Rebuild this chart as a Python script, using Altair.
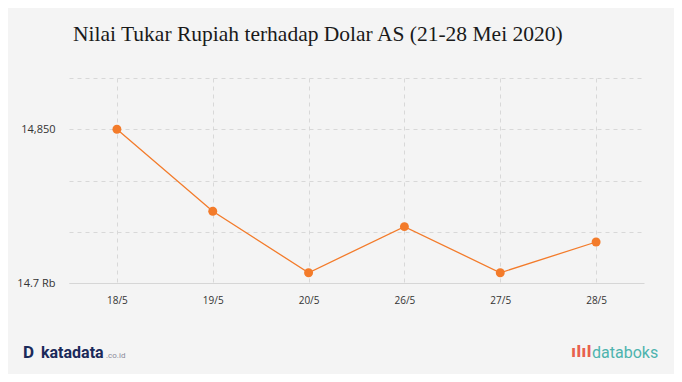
import altair as alt
import pandas as pd

dates = ["18/5", "19/5", "20/5", "26/5", "27/5", "28/5"]
rates = [14850, 14770, 14710, 14755, 14710, 14740]

title_text = "Nilai Tukar Rupiah terhadap Dolar AS (21-28 Mei 2020)"

df = pd.DataFrame({"tanggal": dates, "kurs": rates})

x_enc = alt.X("tanggal:N", sort=dates, title=None,
              scale=alt.Scale(paddingInner=0, paddingOuter=0, align=0.5),
              axis=alt.Axis(labelAngle=0, labelFontSize=10, labelColor="#333333",
                            labelPadding=12, ticks=False, domain=True,
                            domainColor="#d6d6d6", grid=True, gridDash=[4, 4],
                            gridColor="#d8d8d8", labelFont="Open Sans"))
y_enc = alt.Y("kurs:Q", title=None,
              scale=alt.Scale(domain=[14700, 14900], nice=False, zero=False),
              axis=alt.Axis(values=[14700, 14750, 14800, 14850, 14900],
                            labelExpr="datum.value == 14850 ? '14,850' : (datum.value == 14700 ? '14.7 Rb' : '')",
                            labelFontSize=11, labelColor="#333333", labelPadding=14,
                            ticks=False, domain=False, grid=True, gridDash=[4, 4],
                            gridColor="#d8d8d8", labelFont="Open Sans"))

base = alt.Chart(df)
line = base.mark_line(color="#f37b2a", strokeWidth=1.3).encode(x=x_enc, y=y_enc)
pts = base.mark_circle(color="#f37b2a", opacity=1, size=80).encode(x=x_enc, y=y_enc)

foot = pd.DataFrame({"d": [0]})
logo_d = alt.Chart(foot).mark_text(text="D", font="Roboto", fontWeight="bold", fontSize=17,
                                   color="#1b2a5a", align="left", baseline="middle").encode(
    x=alt.value(-46), y=alt.value(275))
logo_k = alt.Chart(foot).mark_text(text="katadata", font="Roboto", fontWeight="bold", fontSize=16,
                                   color="#1b2a5a", align="left", baseline="middle").encode(
    x=alt.value(-28), y=alt.value(275))
logo_c = alt.Chart(foot).mark_text(text=".co.id", font="Roboto", fontSize=8,
                                   color="#8a8a9a", align="left", baseline="middle").encode(
    x=alt.value(37), y=alt.value(278))
logo_i = alt.Chart(foot).mark_text(text="ılıl", font="DejaVu Sans", fontWeight="bold", fontSize=15,
                                   color="#e8604c", align="left", baseline="middle").encode(
    x=alt.value(502), y=alt.value(274))
logo_db = alt.Chart(foot).mark_text(text="databoks", font="Roboto", fontSize=16,
                                    color="#4db3ae", align="left", baseline="middle").encode(
    x=alt.value(523), y=alt.value(275))

chart = alt.layer(line, pts, logo_d, logo_k, logo_c, logo_i, logo_db).properties(
    width=575, height=205,
    autosize=alt.AutoSizeParams(type="none"),
    padding={"left": 61, "top": 70, "right": 30, "bottom": 91},
    background="#f4f4f4",
    title=alt.TitleParams(title_text, anchor="start", frame="group", font="Liberation Serif",
                          fontSize=21.5, fontWeight="normal", color="#1a1a1a",
                          offset=33, dx=4),
).configure_view(stroke=None)

chart.save("out.html", embed_options={"renderer": "svg", "actions": False})
